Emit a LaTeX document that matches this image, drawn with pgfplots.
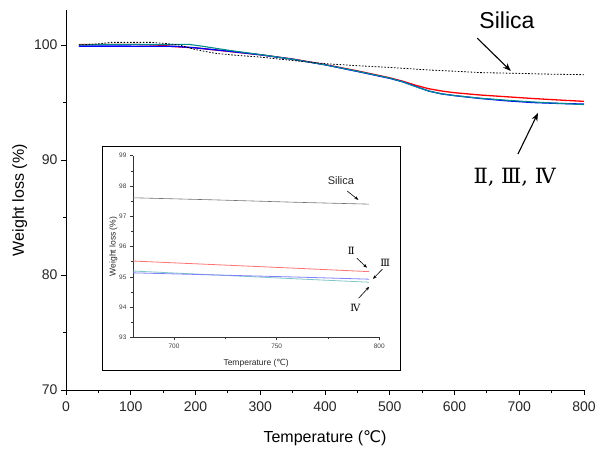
\documentclass[border=0pt]{standalone}
\usepackage{fontspec}
\setmainfont{Liberation Sans}
\newfontfamily\dejavu{DejaVu Sans}
\newfontfamily\romanfont{DejaVu Serif}
\usepackage{pgfplots}
\pgfplotsset{compat=1.18}
\usetikzlibrary{arrows.meta}

\definecolor{tealc}{RGB}{0,140,140}

\begin{document}
\begin{tikzpicture}
\path[use as bounding box] (-66pt,-60pt) rectangle (531pt,390pt);
% main axis
\begin{axis}[
    at={(0pt,0pt)}, anchor=south west,
    width=518pt, height=379.5pt, scale only axis,
    xmin=0, xmax=800, ymin=70, ymax=103,
    axis lines=left, axis line style={-, line width=0.9pt},
    xtick={0,100,...,800}, ytick={70,80,90,100},
    minor x tick num=1, minor y tick num=1,
    tick align=outside,
    major tick length=5pt, minor tick length=3pt,
    tick style={line width=0.8pt, black},
    /pgf/number format/assume math mode=true,
    tick label style={font=\fontsize{14}{16}\selectfont, text=black!85},
    xticklabel style={yshift=-3pt},
    xlabel={Temperature ({\dejavu ℃})},
    ylabel={Weight loss (\%)},
    label style={font=\fontsize{16}{19}\selectfont},
    xlabel style={yshift=-12pt},
    clip=false,
  ]
  % sample II
  \addplot[red, line width=1.3pt] coordinates {
    (20,100.05)(100,100.05)(140,100.0)(170,99.85)(200,99.75)(250,99.45)(300,99.15)
    (350,98.78)(400,98.3)(450,97.75)(500,97.15)(520,96.85)(540,96.5)(560,96.2)
    (580,96.0)(600,95.85)(640,95.65)(680,95.5)(720,95.35)(760,95.22)(800,95.1)
  };
  % sample IV
  \addplot[blue, line width=1.3pt] coordinates {
    (20,99.9)(100,99.9)(170,99.88)(200,99.75)(250,99.47)(300,99.15)
    (350,98.76)(400,98.28)(450,97.7)(500,97.1)(520,96.8)(540,96.4)(560,96.0)
    (580,95.75)(600,95.6)(640,95.35)(680,95.15)(720,95.0)(760,94.92)(800,94.86)
  };
  % sample III
  \addplot[tealc, line width=1.1pt] coordinates {
    (20,100.0)(60,100.05)(190,100.05)(210,99.9)(250,99.55)(300,99.17)
    (350,98.76)(400,98.28)(450,97.72)(500,97.12)(520,96.8)(540,96.38)(560,96.0)
    (580,95.75)(600,95.6)(640,95.37)(680,95.2)(720,95.05)(760,94.93)(800,94.82)
  };
  % silica
  \addplot[black, dash pattern=on 1.6pt off 1.6pt, line width=0.8pt] coordinates {
    (20,100.0)(50,100.1)(70,100.23)(130,100.23)(150,100.15)(175,100.0)(200,99.6)
    (230,99.28)(260,99.12)(300,98.95)(350,98.65)(400,98.38)(450,98.2)(500,98.05)
    (560,97.83)(600,97.72)(640,97.6)(700,97.53)(750,97.46)(800,97.42)
  };
  \node[font=\fontsize{23}{26}\selectfont] at (axis cs:681,102.17) {Silica};
  \draw[-{Stealth[length=8pt,width=6pt]}, line width=1.1pt] (axis cs:635,100.6) -- (axis cs:687,97.74);
  \node[font=\romanfont\fontsize{21}{25}\selectfont] at (axis cs:693,88.5) {Ⅱ, Ⅲ, Ⅳ};
  \draw[-{Stealth[length=8pt,width=6pt]}, line width=1.1pt] (axis cs:698,90.52) -- (axis cs:729,94.09);
\end{axis}

% inset frame
\draw[black, line width=0.8pt, fill=white] (36pt,20pt) rectangle (334pt,244pt);

\begin{axis}[
    at={(67pt,52.7pt)}, anchor=south west,
    width=246.3pt, height=181.6pt, scale only axis,
    xmin=680, xmax=800, ymin=93, ymax=99,
    axis lines=left, axis line style={-, line width=0.6pt, black!80},
    xtick={700,750,800}, ytick={93,94,...,99},
    minor x tick num=1, minor y tick num=1,
    tick align=outside,
    major tick length=3pt, minor tick length=2pt,
    tick style={line width=0.5pt, black!80},
    /pgf/number format/assume math mode=true,
    /pgf/number format/1000 sep={},
    tick label style={font=\fontsize{6.5}{8}\selectfont, text=black!75},
    xlabel={Temperature ({\dejavu ℃})},
    ylabel={Weight loss (\%)},
    label style={font=\fontsize{8.5}{10}\selectfont, text=black!85},
    xlabel style={yshift=-4pt},
    ylabel style={yshift=-5pt},
    clip=false,
  ]
  \addplot[black!55, line width=0.6pt] coordinates {(680,97.61)(720,97.54)(760,97.46)(795,97.40)};
  \addplot[red!55, line width=0.8pt] coordinates {(680,95.52)(720,95.40)(760,95.28)(795,95.17)};
  \addplot[tealc!50, line width=0.8pt] coordinates {(680,95.19)(720,95.06)(760,94.93)(795,94.82)};
  \addplot[blue!50, line width=0.8pt] coordinates {(680,95.13)(720,95.06)(760,94.99)(795,94.92)};
  \node[font=\fontsize{11}{13}\selectfont, text=black!85] at (axis cs:781.3,98.17) {Silica};
  \draw[-{Stealth[length=4pt,width=3pt]}, line width=0.6pt] (axis cs:784.4,97.83) -- (axis cs:789.8,97.54);
  \node[font=\romanfont\fontsize{10}{12}\selectfont] at (axis cs:786.3,95.86) {Ⅱ};
  \draw[-{Stealth[length=4pt,width=3pt]}, line width=0.6pt] (axis cs:789.1,95.61) -- (axis cs:794,95.30);
  \node[font=\romanfont\fontsize{10}{12}\selectfont] at (axis cs:802.9,95.45) {Ⅲ};
  \draw[-{Stealth[length=4pt,width=3pt]}, line width=0.6pt] (axis cs:801.5,95.25) -- (axis cs:796.9,94.93);
  \node[font=\romanfont\fontsize{10}{12}\selectfont] at (axis cs:788.3,93.98) {Ⅳ};
  \draw[-{Stealth[length=4pt,width=3pt]}, line width=0.6pt] (axis cs:789.9,94.29) -- (axis cs:795.1,94.67);
\end{axis}
\end{tikzpicture}
\end{document}
